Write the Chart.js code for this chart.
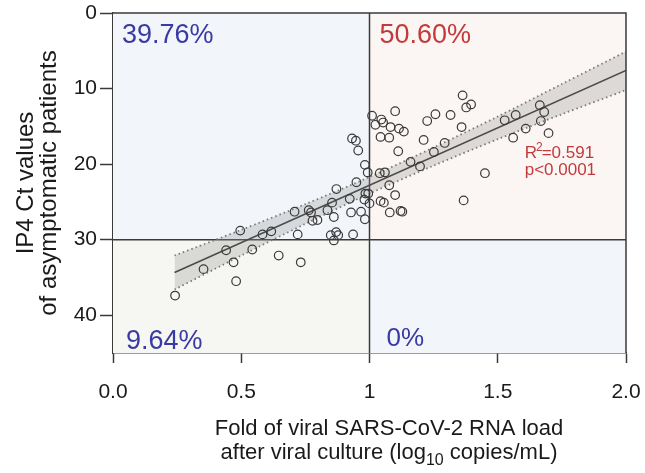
<!doctype html>
<html lang="en">
<head>
<meta charset="utf-8">
<title>IP4 Ct values vs viral load</title>
<style>
  * { margin: 0; padding: 0; }
  body { background: #fff; }
  .chartBox { width: 645px; height: 473px; }
</style>
</head>
<body>
<div class="chartBox"><canvas id="myChart"></canvas></div>
<script src="https://cdn.jsdelivr.net/npm/chart.js@4.4.1/dist/chart.umd.min.js"></script>
<script>
// axis ticks
const xTickValues = [0, 0.5, 1, 1.5, 2];
const xTickLabels = ['0.0', '0.5', '1', '1.5', '2.0'];
const yTickValues = [0, 10, 20, 30, 40];

// patients: fold of viral load (x) vs Ct value (y)
const foldX = [0.242, 0.353, 0.441, 0.47, 0.48, 0.496, 0.543, 0.583, 0.617, 0.646,
  0.72, 0.732, 0.778, 0.797, 0.849, 0.861, 0.87, 0.878, 0.936, 0.982,
  0.932, 0.947, 0.956, 0.982, 0.993, 0.949, 0.871, 0.984, 0.995, 0.923,
  0.98, 1.0, 0.854, 0.708, 0.763, 0.772, 0.836, 0.861, 0.928, 0.967,
  1.01, 1.1, 1.046, 1.053, 1.023, 1.082, 1.115, 1.134, 1.043, 1.077,
  1.225, 1.257, 1.316, 1.363, 1.377, 1.396, 1.359, 1.211, 1.112, 1.293,
  1.251, 1.16, 1.197, 1.04, 1.06, 1.077, 1.1, 1.043, 1.056, 1.079,
  1.121, 1.128, 1.367, 1.527, 1.57, 1.609, 1.56, 1.664, 1.681, 1.668,
  1.698, 1.45];
const ctY = [37.4, 33.9, 31.4, 33.0, 35.5, 28.8, 31.3, 29.3, 28.9, 32.1,
  29.3, 33.0, 27.5, 27.4, 29.4, 30.1, 29.0, 29.4, 29.3, 27.3,
  16.6, 16.9, 18.2, 20.1, 21.1, 22.4, 23.3, 23.9, 23.9, 24.6,
  24.7, 25.2, 25.1, 26.3, 26.1, 26.4, 26.1, 27.0, 26.4, 26.3,
  13.6, 13.0, 14.1, 14.5, 14.8, 15.1, 15.3, 15.7, 16.4, 16.5,
  14.3, 13.4, 13.5, 10.9, 12.5, 12.1, 15.1, 16.8, 18.3, 17.2,
  18.4, 19.7, 20.3, 21.2, 21.1, 22.8, 24.1, 24.9, 25.1, 26.4,
  26.2, 26.3, 24.8, 14.2, 13.5, 15.3, 16.5, 12.2, 13.1, 14.3,
  15.9, 21.2];

// regression line and 95% band
const fitX = [0.24, 2.0];
const fitY = [34.35, 7.6];
const bandX = [0.24, 0.5, 0.75, 1.0, 1.25, 1.5, 1.75, 2.0];
const bandUpper = [32.1, 28.7, 25.3, 21.7, 17.8, 13.7, 9.4, 5.1];
const bandLower = [36.6, 32.1, 27.9, 23.9, 20.2, 16.7, 13.4, 10.2];

// quadrant shares: top-left, top-right, bottom-left, bottom-right
const quadrantLabels = ['39.76%', '50.60%', '9.64%', '0%'];
const rSquared = '0.591';
const pValue = 'p<0.0001';

const FONT = '"Liberation Sans", Arial, sans-serif';
const BLUE = '#3a3aa3';
const RED = '#c23a3c';

const pts = (xs, ys) => xs.map((v, i) => ({x: v, y: ys[i]}));

// quadrant backgrounds + divider lines
const quadrants = {
  id: 'quadrants',
  beforeDatasetsDraw(chart) {
    const { ctx, chartArea: {top, bottom, left, right}, scales: {x, y} } = chart;
    const xm = x.getPixelForValue(1);
    const ym = y.getPixelForValue(30);
    ctx.save();
    ctx.fillStyle = '#f2f6fb';
    ctx.fillRect(left, top, xm - left, ym - top);
    ctx.fillStyle = '#fbf6f3';
    ctx.fillRect(xm, top, right - xm, ym - top);
    ctx.fillStyle = '#f6f7f2';
    ctx.fillRect(left, ym, xm - left, bottom - ym);
    ctx.fillStyle = '#f2f6fb';
    ctx.fillRect(xm, ym, right - xm, bottom - ym);

    ctx.strokeStyle = '#3a3a3a';
    ctx.lineWidth = 1.5;
    ctx.beginPath();
    ctx.moveTo(xm, top);
    ctx.lineTo(xm, bottom);
    ctx.moveTo(left, ym);
    ctx.lineTo(right, ym);
    ctx.stroke();
    ctx.restore();
  },
  afterDraw(chart) {
    const { ctx, chartArea: {top, bottom, left, right}, scales: {x, y} } = chart;
    const xm = x.getPixelForValue(1);
    ctx.save();
    // frame top + right
    ctx.strokeStyle = '#3a3a3a';
    ctx.lineWidth = 1.5;
    ctx.beginPath();
    ctx.moveTo(left, top);
    ctx.lineTo(right, top);
    ctx.lineTo(right, bottom);
    ctx.stroke();

    ctx.textBaseline = 'alphabetic';
    ctx.textAlign = 'left';
    ctx.font = '27px ' + FONT;
    ctx.fillStyle = BLUE;
    ctx.fillText(quadrantLabels[0], left + 9, top + 30);
    ctx.fillStyle = RED;
    ctx.fillText(quadrantLabels[1], xm + 10, top + 30);
    ctx.fillStyle = BLUE;
    ctx.fillText(quadrantLabels[2], left + 13, bottom - 4);
    ctx.font = '26px ' + FONT;
    ctx.fillText(quadrantLabels[3], xm + 17, bottom - 7);

    // R^2 and p
    ctx.fillStyle = RED;
    let sx = x.getPixelForValue(1.605);
    const sy = y.getPixelForValue(19.2);
    ctx.font = '17px ' + FONT;
    ctx.fillText('R', sx, sy);
    sx += ctx.measureText('R').width - 1;
    ctx.font = '12px ' + FONT;
    ctx.fillText('2', sx, sy - 7);
    sx += ctx.measureText('2').width - 1;
    ctx.font = '17px ' + FONT;
    ctx.fillText('=' + rSquared, sx, sy);
    ctx.fillText(pValue, x.getPixelForValue(1.605), y.getPixelForValue(21.5));

    // axis titles
    ctx.fillStyle = '#1a1a1a';
    ctx.font = '22px ' + FONT;
    ctx.textAlign = 'center';
    ctx.fillText('Fold of viral SARS-CoV-2 RNA load', 389, 435);

    const a = 'after viral culture (log', sub = '10', b = ' copies/mL)';
    ctx.font = '22px ' + FONT;
    const wa = ctx.measureText(a).width, wb = ctx.measureText(b).width;
    ctx.font = '16px ' + FONT;
    const ws = ctx.measureText(sub).width;
    let cx = 389 - (wa + ws + wb) / 2;
    ctx.textAlign = 'left';
    ctx.font = '22px ' + FONT;
    ctx.fillText(a, cx, 459);
    cx += wa;
    ctx.font = '16px ' + FONT;
    ctx.fillText(sub, cx, 465);
    cx += ws;
    ctx.font = '22px ' + FONT;
    ctx.fillText(b, cx, 459);

    ctx.font = '24px ' + FONT;
    ctx.textAlign = 'center';
    ctx.textBaseline = 'middle';
    ctx.translate(0, (top + bottom) / 2);
    ctx.rotate(-Math.PI / 2);
    ctx.fillText('IP4 Ct values', 0, 26);
    ctx.fillText('of asymptomatic patients', 0, 49);
    ctx.restore();
  }
};

const data = {
  datasets: [
    {
      type: 'scatter',
      label: 'Patients',
      data: pts(foldX, ctY),
      pointStyle: 'circle',
      pointRadius: 4.3,
      pointBorderWidth: 1.2,
      pointBorderColor: '#3a3a3a',
      pointBackgroundColor: 'rgba(0,0,0,0)',
      order: 0
    },
    {
      type: 'line',
      label: 'Fit',
      data: pts(fitX, fitY),
      borderColor: '#4a4a4a',
      borderWidth: 1.5,
      pointRadius: 0,
      fill: false,
      order: 1
    },
    {
      type: 'line',
      label: 'Upper',
      data: pts(bandX, bandUpper),
      borderColor: '#7a7a7a',
      borderWidth: 1.8,
      borderDash: [1.5, 3],
      pointRadius: 0,
      tension: 0.3,
      fill: false,
      order: 2
    },
    {
      type: 'line',
      label: 'Lower',
      data: pts(bandX, bandLower),
      borderColor: '#7a7a7a',
      borderWidth: 1.8,
      borderDash: [1.5, 3],
      pointRadius: 0,
      tension: 0.3,
      fill: '-1',
      backgroundColor: 'rgba(150,150,150,0.3)',
      order: 3
    }
  ]
};

const config = {
  type: 'scatter',
  data,
  options: {
    responsive: true,
    maintainAspectRatio: false,
    animation: false,
    layout: { padding: { top: 13, right: 19, left: 0, bottom: 0 } },
    scales: {
      x: {
        type: 'linear',
        min: 0,
        max: 2,
        afterBuildTicks: (scale) => { scale.ticks = xTickValues.map(v => ({value: v})); },
        afterFit: (scale) => { scale.height = 120; scale.paddingLeft = 0; scale.paddingRight = 0; },
        ticks: {
          callback: (v) => xTickLabels[xTickValues.indexOf(v)],
          font: { family: FONT, size: 21 },
          color: '#1a1a1a',
          padding: 17,
          maxRotation: 0
        },
        grid: { drawOnChartArea: false, tickLength: 10, tickWidth: 1.5, tickColor: '#3a3a3a' },
        border: { color: '#3a3a3a', width: 1.5 }
      },
      y: {
        type: 'linear',
        min: 0,
        max: 45,
        reverse: true,
        afterBuildTicks: (scale) => { scale.ticks = yTickValues.map(v => ({value: v})); },
        afterFit: (scale) => { scale.width = 113; scale.paddingTop = 0; scale.paddingBottom = 0; },
        ticks: {
          font: { family: FONT, size: 21 },
          color: '#1a1a1a',
          padding: 3
        },
        grid: { drawOnChartArea: false, tickLength: 13, tickWidth: 1.5, tickColor: '#3a3a3a' },
        border: { color: '#3a3a3a', width: 1.5 }
      }
    },
    plugins: {
      legend: { display: false },
      tooltip: { enabled: false }
    }
  },
  plugins: [quadrants]
};

const myChart = new Chart(document.getElementById('myChart'), config);
</script>
</body>
</html>
